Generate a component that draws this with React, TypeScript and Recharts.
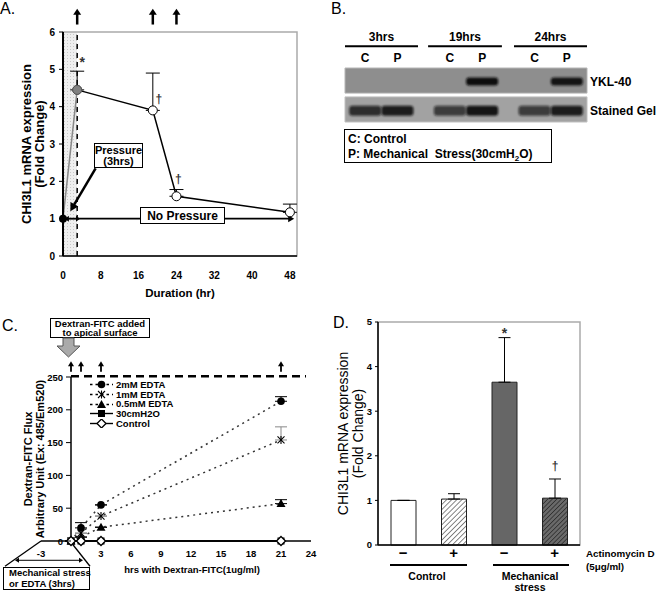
import React from "react";
import {
  ComposedChart,
  Line,
  XAxis,
  YAxis,
  ReferenceLine,
  ReferenceArea,
  ErrorBar,
  LabelList,
  ScatterChart,
  Scatter,
  BarChart,
  Bar,
  Cell,
  Legend,
} from "recharts";

const FONT = '"Liberation Sans", Arial, Helvetica, sans-serif';

// ---- A: CHI3L1 mRNA after 3 hrs of pressure ----
const durationHr = [0, 3, 19, 24, 48];
const foldChange = [1.0, 4.45, 3.9, 1.6, 1.17];
const foldErr = [0, 0.5, 1.0, 0.18, 0.22];
const foldMarks = ["", "*", "†", "†", ""];
const sampleHrA = [3, 19, 24];
const ticksHrA = [0, 8, 16, 24, 32, 40, 48];
const ticksFoldA = [0, 1, 2, 3, 4, 5, 6];

// ---- B: YKL-40 western blot ----
const laneX = [0.5, 1.3, 2.6, 3.4, 4.7, 5.5];
const laneType = ["C", "P", "C", "P", "C", "P"];
const yklBand = [0, 0, 0, 1, 0, 0.95];
const gelBand = [0.8, 0.9, 0.7, 0.95, 0.7, 0.9];
const blotRows = ["Stained Gel", "YKL-40"];
const rowY = [0.42, 1.5];
const groupHrs = ["3hrs", "19hrs", "24hrs"];
const groupFrom = [0, 2.06, 4.19];
const groupTo = [1.81, 3.89, 6];

// ---- C: Dextran-FITC flux ----
const fluxHr = [0, 1, 3, 21];
const edta2 = [0, 20, 55, 213];
const edta2Err = [0, 8, 0, 7];
const edta1 = [0, 12, 38, 154];
const edta1Err = [0, 0, 0, 20];
const edta05 = [0, 6, 21, 57];
const edta05Err = [0, 0, 0, 6];
const press30 = [0, 0, 0, 0];
const ctrlFlux = [0, 0, 0, 0];
const ticksHrC = [-3, 0, 3, 6, 9, 12, 15, 18, 21, 24];
const ticksFluxC = [0, 50, 100, 150, 200, 250];

// ---- D: actinomycin D ----
const actLabels = ["−", "+", "−", "+"];
const actFold = [1.0, 1.03, 3.65, 1.05];
const actErr = [0, 0.12, 1.0, 0.43];
const actMarks = ["", "", "*", "†"];
const ticksFoldD = [0, 1, 2, 3, 4, 5];

const seriesC = [
  { key: "e2", name: "2mM EDTA", vals: edta2, err: edta2Err, dashed: true, mk: "circle", errColor: "#000" },
  { key: "e1", name: "1mM EDTA", vals: edta1, err: edta1Err, dashed: true, mk: "star", errColor: "#888" },
  { key: "e05", name: "0.5mM EDTA", vals: edta05, err: edta05Err, dashed: true, mk: "triangle", errColor: "#000" },
  { key: "p30", name: "30cmH2O", vals: press30, err: null, dashed: false, mk: "square", errColor: "#000" },
  { key: "ctl", name: "Control", vals: ctrlFlux, err: null, dashed: false, mk: "diamond", errColor: "#000" },
];

function arrowShape(head: number, half: number, width: number, start = false, end = true, color = "#000") {
  return (p: any) => {
    const { x1, y1, x2, y2 } = p;
    const dx = x2 - x1;
    const dy = y2 - y1;
    const len = Math.hypot(dx, dy) || 1;
    const ux = dx / len;
    const uy = dy / len;
    const tri = (tx: number, ty: number, sx: number, sy: number) => {
      const bx = tx - sx * head;
      const by = ty - sy * head;
      return `${tx},${ty} ${bx - sy * half},${by + sx * half} ${bx + sy * half},${by - sx * half}`;
    };
    const lx1 = start ? x1 + ux * head * 0.8 : x1;
    const ly1 = start ? y1 + uy * head * 0.8 : y1;
    const lx2 = end ? x2 - ux * head * 0.8 : x2;
    const ly2 = end ? y2 - uy * head * 0.8 : y2;
    return (
      <g>
        <line x1={lx1} y1={ly1} x2={lx2} y2={ly2} stroke={color} strokeWidth={width} />
        {end && <polygon points={tri(x2, y2, ux, uy)} fill={color} />}
        {start && <polygon points={tri(x1, y1, -ux, -uy)} fill={color} />}
      </g>
    );
  };
}

function rotTitle(lines: string[], xs: number[], size: number, weight: string) {
  return (props: any) => {
    const vb = props.viewBox || {};
    const cy = (vb.y ?? 0) + (vb.height ?? 0) / 2;
    return (
      <g>
        {lines.map((s, i) => (
          <text
            key={s}
            x={xs[i]}
            y={cy}
            transform={`rotate(-90 ${xs[i]} ${cy})`}
            textAnchor="middle"
            dominantBaseline="central"
            fontSize={size}
            fontWeight={weight}
            fontFamily={FONT}
            fill="#000"
          >
            {s}
          </text>
        ))}
      </g>
    );
  };
}

function flatTitle(text: string, x: number, y: number, size: number) {
  return () => (
    <text x={x} y={y} textAnchor="middle" dominantBaseline="central" fontSize={size} fontWeight="bold" fontFamily={FONT} fill="#000">
      {text}
    </text>
  );
}

function Txt({ x, y, children, size = 12, bold = true, anchor = "start" }: any) {
  const tx = anchor === "middle" ? "-50%" : anchor === "end" ? "-100%" : "0";
  return (
    <div
      style={{
        position: "absolute",
        left: x,
        top: y,
        transform: `translate(${tx}, -50%)`,
        fontSize: size,
        fontWeight: bold ? "bold" : "normal",
        lineHeight: 1,
        whiteSpace: "nowrap",
        fontFamily: FONT,
        color: "#000",
      }}
    >
      {children}
    </div>
  );
}

function Defs() {
  return (
    <svg width={0} height={0} style={{ position: "absolute" }}>
      <defs>
        <pattern id="dotsA" width="3" height="3" patternUnits="userSpaceOnUse">
          <rect width="3" height="3" fill="#efefef" />
          <rect x="1" y="1" width="1" height="1" fill="#c8c8c8" />
        </pattern>
        <pattern id="hatchL" width="3.6" height="3.6" patternUnits="userSpaceOnUse" patternTransform="rotate(45)">
          <rect width="3.6" height="3.6" fill="#fff" />
          <line x1="0" y1="0" x2="0" y2="3.6" stroke="#444" strokeWidth="1.3" />
        </pattern>
        <pattern id="hatchD" width="3.2" height="3.2" patternUnits="userSpaceOnUse" patternTransform="rotate(45)">
          <rect width="3.2" height="3.2" fill="#6a6a6a" />
          <line x1="0" y1="0" x2="0" y2="3.2" stroke="#222" strokeWidth="1.3" />
        </pattern>
        <filter id="blot" x="-50%" y="-150%" width="200%" height="400%">
          <feGaussianBlur stdDeviation="1.3" />
        </filter>
      </defs>
    </svg>
  );
}

// ---------- Panel A ----------
const dotA = (p: any) => {
  const { cx, cy, payload } = p;
  if (payload.i === 0) return <circle key={`a${payload.i}`} cx={cx} cy={cy} r={4} fill="#000" />;
  if (payload.i === 1) return <circle key={`a${payload.i}`} cx={cx} cy={cy} r={4.5} fill="#808080" stroke="#555" />;
  return <circle key={`a${payload.i}`} cx={cx} cy={cy} r={4.5} fill="#fff" stroke="#000" strokeWidth={1} />;
};

const markDx = [5, 6, 2, 0];
const markDy = [-28, -11, -17, 0];
const markA = (p: any) => {
  const { x, y, value, index } = p;
  if (!value) return null;
  return (
    <text
      x={x + markDx[index]}
      y={y + markDy[index]}
      textAnchor="middle"
      dominantBaseline="central"
      fontSize={value === "*" ? 14 : 12}
      fontWeight="bold"
      fontFamily={FONT}
      fill="#333"
    >
      {value}
    </text>
  );
};

function PanelA() {
  const pts = durationHr.map((t, i) => ({ t, v: foldChange[i], err: [0, foldErr[i]], mark: foldMarks[i], i }));
  const tickStyle = { fontSize: 10, fontWeight: "bold", fill: "#000", fontFamily: FONT };
  return (
    <div style={{ position: "absolute", left: 0, top: 0, width: 330, height: 300 }}>
      <ComposedChart width={330} height={300} margin={{ top: 32, right: 33, bottom: 0, left: 0 }}>
        <ReferenceArea x1={0} x2={3} y1={0} y2={6} fill="url(#dotsA)" fillOpacity={1} stroke="none" />
        <ReferenceArea x1={0} x2={49.5} y1={0} y2={6} fill="none" stroke="#aaa" strokeWidth={1.5} />
        <ReferenceLine x={3} stroke="#000" strokeDasharray="5 4" strokeWidth={1.5} />
        <XAxis
          type="number"
          dataKey="t"
          domain={[0, 49.5]}
          ticks={ticksHrA}
          height={44}
          axisLine={{ stroke: "#000", strokeWidth: 1.5 }}
          tickLine={false}
          tickSize={0}
          tickMargin={16}
          tick={tickStyle}
          label={{ content: flatTitle("Duration (hr)", 180, 293, 11.5) }}
        />
        <YAxis
          type="number"
          domain={[0, 6]}
          ticks={ticksFoldA}
          width={63}
          axisLine={{ stroke: "#000", strokeWidth: 2 }}
          tickLine={{ stroke: "#000" }}
          tickSize={4}
          tickMargin={4}
          tick={tickStyle}
          label={{ content: rotTitle(["CHI3L1 mRNA expression", "(Fold Change)"], [26.5, 39.5], 13, "bold") }}
        />
        {sampleHrA.map((h) => (
          <ReferenceLine
            key={h}
            segment={[{ x: h, y: 6.2 }, { x: h, y: 6.62 }]}
            ifOverflow="visible"
            shape={arrowShape(6, 4, 2.5)}
          />
        ))}
        <ReferenceLine segment={[{ x: 0, y: 1 }, { x: 48.9, y: 1 }]} ifOverflow="visible" shape={arrowShape(6, 3.5, 1.8)} />
        <ReferenceLine segment={[{ x: 0.4, y: 1 }, { x: 3.6, y: 1 }]} ifOverflow="visible" shape={arrowShape(4, 3, 1.2, true, true)} />
        <ReferenceLine segment={[{ x: 6.9, y: 2.35 }, { x: 1.55, y: 1.2 }]} ifOverflow="visible" shape={arrowShape(8, 4.5, 2.5)} />
        <Line data={pts.slice(0, 2)} dataKey="v" stroke="#888" strokeWidth={1.5} dot={dotA} isAnimationActive={false} />
        <Line data={pts.slice(1)} dataKey="v" stroke="#000" strokeWidth={1.5} dot={dotA} isAnimationActive={false}>
          <ErrorBar dataKey="err" width={7} stroke="#000" strokeWidth={1} direction="y" />
          <LabelList dataKey="mark" content={markA} />
        </Line>
      </ComposedChart>
      <div
        style={{
          position: "absolute",
          left: 94,
          top: 143,
          width: 49,
          height: 25,
          boxSizing: "border-box",
          border: "1.5px solid #000",
          background: "#fff",
          display: "flex",
          flexDirection: "column",
          alignItems: "center",
          justifyContent: "center",
          fontSize: 11,
          fontWeight: "bold",
          lineHeight: "11px",
          fontFamily: FONT,
        }}
      >
        <span>Pressure</span>
        <span>(3hrs)</span>
      </div>
      <div
        style={{
          position: "absolute",
          left: 140,
          top: 207,
          width: 85,
          height: 17,
          boxSizing: "border-box",
          border: "1.5px solid #000",
          background: "#fff",
          display: "flex",
          alignItems: "center",
          justifyContent: "center",
          fontSize: 12,
          fontWeight: "bold",
          fontFamily: FONT,
        }}
      >
        No Pressure
      </div>
    </div>
  );
}

// ---------- Panel B ----------
function bandShape(h: number) {
  return (p: any) => {
    const { cx, cy, payload } = p;
    if (!payload.s) return <g />;
    return (
      <rect x={cx - 16} y={cy - h / 2} width={32} height={h} rx={3} fill="#111" fillOpacity={payload.s} filter="url(#blot)" />
    );
  };
}

const rowTickB = (p: any) => (
  <text x={p.x} y={p.y} dominantBaseline="central" textAnchor="start" fontSize={12} fontWeight="bold" fontFamily={FONT} fill="#000">
    {blotRows[p.index]}
  </text>
);

function PanelB() {
  const ykl = laneX.map((x, i) => ({ x, y: rowY[1], s: yklBand[i] }));
  const gel = laneX.map((x, i) => ({ x, y: rowY[0], s: gelBand[i] }));
  const tickStyle = { fontSize: 12, fontWeight: "bold", fill: "#000", fontFamily: FONT };
  return (
    <div style={{ position: "absolute", left: 330, top: 0, width: 326, height: 200 }}>
      <ScatterChart width={326} height={200} margin={{ top: 40, right: 0, bottom: 78, left: 15 }}>
        <XAxis
          type="number"
          dataKey="x"
          orientation="top"
          domain={[0, 6]}
          ticks={laneX}
          tickFormatter={(_: any, i: number) => laneType[i]}
          height={28}
          axisLine={false}
          tickLine={false}
          tickSize={0}
          tickMargin={6}
          tick={tickStyle}
        />
        <YAxis
          type="number"
          dataKey="y"
          orientation="right"
          domain={[0, 2]}
          ticks={rowY}
          width={69}
          axisLine={false}
          tickLine={false}
          tickSize={0}
          tickMargin={3}
          tick={rowTickB}
        />
        <ReferenceArea x1={0} x2={6} y1={1.07} y2={2} fill="#8e8e8e" fillOpacity={1} stroke="#b5b5b5" />
        <ReferenceArea x1={0} x2={6} y1={0} y2={0.93} fill="#a2a2a2" fillOpacity={1} stroke="#c0c0c0" />
        {groupHrs.map((g, i) => (
          <ReferenceLine
            key={g}
            segment={[{ x: groupFrom[i], y: 2.81 }, { x: groupTo[i], y: 2.81 }]}
            ifOverflow="visible"
            stroke="#000"
            strokeWidth={2}
            label={{ value: g, position: "top", offset: 5, fontSize: 12, fontWeight: "bold", fill: "#000", fontFamily: FONT }}
          />
        ))}
        <Scatter data={ykl} shape={bandShape(8)} isAnimationActive={false} />
        <Scatter data={gel} shape={bandShape(10)} isAnimationActive={false} />
      </ScatterChart>
      <div
        style={{
          position: "absolute",
          left: 14,
          top: 129,
          width: 208,
          height: 34,
          boxSizing: "border-box",
          border: "1.5px solid #000",
          background: "#fff",
        }}
      />
      <Txt x={18} y={139} size={12}>C: Control</Txt>
      <Txt x={18} y={155} size={12}>
        P: Mechanical&nbsp; Stress(30cmH<sub style={{ fontSize: 8, verticalAlign: "-3px" }}>2</sub>O)
      </Txt>
    </div>
  );
}

// ---------- Panel C ----------
function MarkerC({ type, cx, cy }: { type: string; cx: number; cy: number }) {
  if (cx == null || cy == null) return null;
  switch (type) {
    case "circle":
      return <circle cx={cx} cy={cy} r={3.8} fill="#000" />;
    case "star":
      return (
        <g stroke="#000" strokeWidth={1.1}>
          <line x1={cx - 3.5} y1={cy - 3.5} x2={cx + 3.5} y2={cy + 3.5} />
          <line x1={cx - 3.5} y1={cy + 3.5} x2={cx + 3.5} y2={cy - 3.5} />
          <line x1={cx} y1={cy - 4} x2={cx} y2={cy + 4} />
        </g>
      );
    case "triangle":
      return <polygon points={`${cx},${cy - 4.5} ${cx - 4.5},${cy + 3.5} ${cx + 4.5},${cy + 3.5}`} fill="#000" />;
    case "square":
      return <rect x={cx - 3.5} y={cy - 3.5} width={7} height={7} fill="#000" />;
    default:
      return <polygon points={`${cx},${cy - 4.5} ${cx + 4.5},${cy} ${cx},${cy + 4.5} ${cx - 4.5},${cy}`} fill="#fff" stroke="#000" strokeWidth={1.3} />;
  }
}

const tickFluxC = (p: any) => {
  const x0 = p.x + 30;
  return (
    <g>
      <line x1={x0 - 5} x2={x0} y1={p.y} y2={p.y} stroke="#000" />
      <text x={x0 - 8} y={p.y} dominantBaseline="central" textAnchor="end" fontSize={9.5} fontWeight="bold" fontFamily={FONT} fill="#000">
        {p.payload.value}
      </text>
    </g>
  );
};

const legendC = () => (
  <div style={{ fontFamily: FONT, fontSize: 9.5, fontWeight: "bold", color: "#000" }}>
    {seriesC.map((s) => (
      <div key={s.key} style={{ display: "flex", alignItems: "center", height: 9.7 }}>
        <svg width={23} height={9} style={{ display: "block" }}>
          <line x1={0} x2={23} y1={4.5} y2={4.5} stroke="#000" strokeWidth={1.4} strokeDasharray={s.dashed ? "2.5 3" : undefined} />
          <MarkerC type={s.mk} cx={11.5} cy={4.5} />
        </svg>
        <span style={{ marginLeft: 3, lineHeight: 1 }}>{s.name}</span>
      </div>
    ))}
  </div>
);

function PanelC() {
  const rows = fluxHr.map((t, i) => {
    const r: any = { t };
    seriesC.forEach((s) => {
      r[s.key] = s.vals[i];
      if (s.err) r[`${s.key}Err`] = [0, s.err[i]];
    });
    return r;
  });
  return (
    <div style={{ position: "absolute", left: 0, top: 300, width: 330, height: 292 }}>
      <ComposedChart width={330} height={292} data={rows} margin={{ top: 77, right: 19, bottom: 0, left: 0 }}>
        <XAxis
          type="number"
          dataKey="t"
          domain={[-3, 24]}
          ticks={ticksHrC}
          tickFormatter={(v: number) => (v === 0 ? "" : String(v))}
          height={51}
          axisLine={{ stroke: "#000", strokeWidth: 1.5 }}
          tickLine={false}
          tickSize={0}
          tickMargin={9}
          tick={{ fontSize: 9.5, fontWeight: "bold", fill: "#000", fontFamily: FONT }}
          label={{ content: flatTitle("hrs with Dextran-FITC(1ug/ml)", 192, 269, 9.5) }}
        />
        <YAxis
          type="number"
          domain={[0, 250]}
          ticks={ticksFluxC}
          width={41}
          axisLine={false}
          tickLine={false}
          tickSize={0}
          tickMargin={0}
          tick={tickFluxC}
          label={{ content: rotTitle(["Dextran-FITC Flux", "Arbitrary Unit (Ex: 485/Em520)"], [28, 39.5], 11, "bold") }}
        />
        <ReferenceLine segment={[{ x: 0, y: 0 }, { x: 0, y: 250 }]} stroke="#000" strokeWidth={1.5} ifOverflow="visible" />
        <ReferenceLine segment={[{ x: 0, y: 251 }, { x: 23.5, y: 251 }]} stroke="#000" strokeWidth={2.5} strokeDasharray="8 5" ifOverflow="visible" />
        {fluxHr.map((h) => (
          <ReferenceLine key={h} segment={[{ x: h, y: 258 }, { x: h, y: 274 }]} ifOverflow="visible" shape={arrowShape(5, 3, 1.8)} />
        ))}
        <ReferenceLine segment={[{ x: -3, y: 0 }, { x: -6.6, y: -38.5 }]} stroke="#000" strokeWidth={1.3} ifOverflow="visible" />
        <ReferenceLine segment={[{ x: -0.1, y: 0 }, { x: 1.9, y: -38.5 }]} stroke="#000" strokeWidth={1.3} ifOverflow="visible" />
        <ReferenceLine segment={[{ x: -5.6, y: -29.4 }, { x: 1.2, y: -29.4 }]} ifOverflow="visible" shape={arrowShape(4, 2.5, 1, true, true)} />
        {seriesC.map((s) => (
          <Line
            key={s.key}
            dataKey={s.key}
            stroke={s.dashed ? "#333" : "#000"}
            strokeWidth={1.5}
            strokeDasharray={s.dashed ? "2 4" : undefined}
            dot={(p: any) => <MarkerC key={`${s.key}${p.index}`} type={s.mk} cx={p.cx} cy={p.cy} />}
            isAnimationActive={false}
          >
            {s.err && <ErrorBar dataKey={`${s.key}Err`} width={6} stroke={s.errColor} strokeWidth={1} direction="y" />}
          </Line>
        ))}
        <Legend
          layout="vertical"
          align="center"
          verticalAlign="middle"
          content={legendC}
          wrapperStyle={{ left: 90, top: 80, width: 130 }}
        />
      </ComposedChart>
      <div
        style={{
          position: "absolute",
          left: 50,
          top: 18,
          width: 100,
          height: 20,
          boxSizing: "border-box",
          border: "1px solid #000",
          background: "#fff",
        }}
      />
      <Txt x={100} y={23.5} size={9.5} anchor="middle">Dextran-FITC added</Txt>
      <Txt x={100} y={33} size={9.5} anchor="middle">to apical surface</Txt>
      <svg width={330} height={70} style={{ position: "absolute", left: 0, top: 0 }}>
        <polygon points="63,38 74,38 74,46 80,46 68.5,57 57,46 63,46" fill="#aaa" stroke="#555" strokeWidth={1} />
      </svg>
      <div
        style={{
          position: "absolute",
          left: 3,
          top: 267,
          width: 87,
          height: 23,
          boxSizing: "border-box",
          border: "1px solid #000",
          background: "#fff",
        }}
      />
      <Txt x={9} y={273} size={9.5}>Mechanical stress</Txt>
      <Txt x={9} y={284} size={9.5}>or EDTA (3hrs)</Txt>
    </div>
  );
}

// ---------- Panel D ----------
const fillsD = ["#fff", "url(#hatchL)", "#666", "url(#hatchD)"];

const markD = (p: any) => {
  const { x, y, width, height, value, index } = p;
  if (!value) return null;
  const perUnit = height / actFold[index];
  const top = y - actErr[index] * perUnit;
  return (
    <text
      x={x + width / 2}
      y={top - (value === "*" ? 5 : 13)}
      textAnchor="middle"
      dominantBaseline="central"
      fontSize={value === "*" ? 14 : 12}
      fontWeight="bold"
      fontFamily={FONT}
      fill="#333"
    >
      {value}
    </text>
  );
};

function PanelD() {
  const rows = actLabels.map((lab, i) => ({ id: `g${i}`, lab, v: actFold[i], err: [0, actErr[i]], mark: actMarks[i] }));
  return (
    <div style={{ position: "absolute", left: 330, top: 300, width: 326, height: 292 }}>
      <BarChart width={326} height={292} data={rows} margin={{ top: 22, right: 76, bottom: 0, left: 0 }} barSize={25}>
        <ReferenceArea y1={0} y2={5} fill="none" stroke="#aaa" strokeWidth={1.5} />
        <XAxis
          dataKey="id"
          tickFormatter={(_: any, i: number) => actLabels[i]}
          height={47}
          axisLine={{ stroke: "#000", strokeWidth: 1.5 }}
          tickLine={false}
          tickSize={0}
          tickMargin={2}
          tick={{ fontSize: 15, fontWeight: "bold", fill: "#000", fontFamily: FONT }}
        />
        <YAxis
          type="number"
          domain={[0, 5]}
          ticks={ticksFoldD}
          width={48}
          axisLine={{ stroke: "#000", strokeWidth: 1.5 }}
          tickLine={{ stroke: "#000" }}
          tickSize={3}
          tickMargin={3}
          tick={{ fontSize: 9.5, fontWeight: "bold", fill: "#000", fontFamily: FONT }}
          label={{ content: rotTitle(["CHI3L1 mRNA expression", "(Fold Change)"], [13, 28], 14, "normal") }}
        />
        <Bar dataKey="v" stroke="#222" strokeWidth={1} isAnimationActive={false}>
          {rows.map((r, i) => (
            <Cell key={r.id} fill={fillsD[i]} />
          ))}
          <ErrorBar dataKey="err" width={6} stroke="#000" strokeWidth={1} direction="y" />
          <LabelList dataKey="mark" content={markD} />
        </Bar>
      </BarChart>
      <div style={{ position: "absolute", left: 60, top: 264, width: 77, height: 2, background: "#000" }} />
      <div style={{ position: "absolute", left: 163, top: 264, width: 76, height: 2, background: "#000" }} />
      <Txt x={97} y={276} size={10.5} anchor="middle">Control</Txt>
      <Txt x={200} y={276} size={10.5} anchor="middle">Mechanical</Txt>
      <Txt x={200} y={287} size={10.5} anchor="middle">stress</Txt>
      <Txt x={256} y={254} size={9.8}>Actinomycin D</Txt>
      <Txt x={256} y={267} size={9.8}>(5μg/ml)</Txt>
    </div>
  );
}

export default function App() {
  return (
    <div
      style={{
        position: "absolute",
        left: 0,
        top: 0,
        width: 656,
        height: 592,
        background: "#fff",
        fontFamily: FONT,
        overflow: "hidden",
      }}
    >
      <Defs />
      <PanelA />
      <PanelB />
      <PanelC />
      <PanelD />
      <Txt x={0} y={9} size={16} bold={false}>A.</Txt>
      <Txt x={331} y={9} size={16} bold={false}>B.</Txt>
      <Txt x={2} y={326} size={16} bold={false}>C.</Txt>
      <Txt x={333} y={323} size={16} bold={false}>D.</Txt>
    </div>
  );
}
